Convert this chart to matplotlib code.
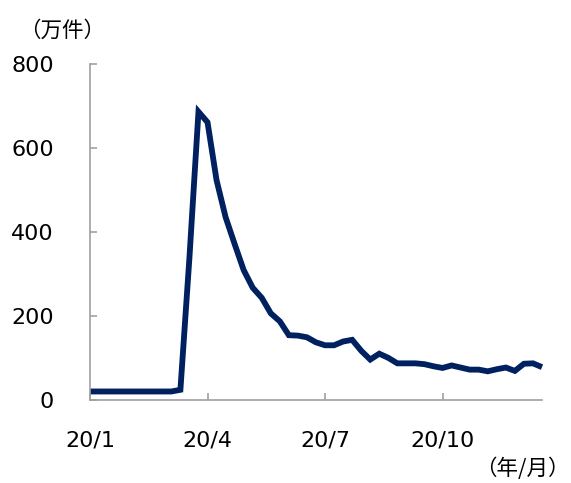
import numpy as np
import matplotlib
matplotlib.use("Agg")
import matplotlib.pyplot as plt

# Weekly initial claims, 2020 (unit: 10,000 claims), week ending Jan 4 .. Dec 19
claims = [21, 21, 21, 21, 21, 21, 21, 21, 21, 21,
          25, 340, 687, 662, 524, 436, 372, 310, 268, 244,
          207, 188, 155, 154, 150, 138, 131, 131, 140, 144,
          118, 97, 111, 101, 88, 88, 88, 86, 81, 77,
          83, 78, 73, 73, 69, 74, 78, 70, 87, 88, 79]
tick_weeks = [0, 13, 26, 39]
tick_labels = ["20/1", "20/4", "20/7", "20/10"]
y_ticks = [0, 200, 400, 600, 800]

W, H = 571, 483
fig = plt.figure(figsize=(W / 100, H / 100), dpi=100)
ax = fig.add_axes([90 / W, 1 - 400.3 / H, (542 - 90) / W, (400.3 - 64.3) / H])

x = np.arange(len(claims))
ax.plot(x, claims, color="#002060", lw=4.2, solid_joinstyle="miter",
        solid_capstyle="butt", clip_on=False)

ax.set_xlim(0, len(claims) - 1)
ax.set_ylim(0, 800)
ax.set_xticks(tick_weeks)
ax.set_xticklabels(tick_labels)
ax.set_yticks(y_ticks)

axis_gray = "#a0a0a0"
for side in ("top", "right"):
    ax.spines[side].set_visible(False)
for side in ("left", "bottom"):
    ax.spines[side].set_color(axis_gray)
    ax.spines[side].set_linewidth(1.2)

ax.tick_params(axis="both", direction="in", length=5, width=1.2,
               color=axis_gray, labelsize=16, labelcolor="black")
ax.tick_params(axis="y", pad=26)
ax.tick_params(axis="x", pad=22)

cjk = ["Noto Sans CJK JP", "DejaVu Sans"]
fig.text(19 / W, 1 - 31 / H, "（万件）", family=cjk, fontsize=15.5,
         ha="left", va="center")
fig.text(570 / W, 1 - 469 / H, "（年/月）", family=cjk, fontsize=15.5,
         ha="right", va="center")

fig.savefig("out.png", dpi=100)
